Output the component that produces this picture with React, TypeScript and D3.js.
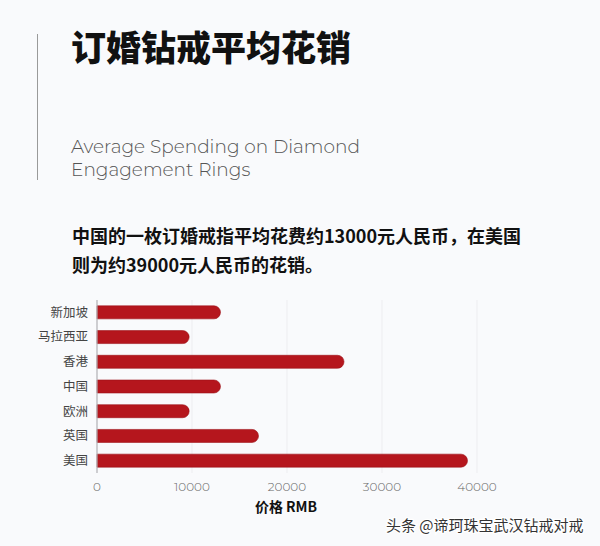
import React from "react";
import * as d3 from "d3";

const categories = ["新加坡", "马拉西亚", "香港", "中国", "欧洲", "英国", "美国"];
const values = [13000, 9700, 26000, 13000, 9700, 17000, 39000];
const xTicks = [0, 10000, 20000, 30000, 40000];
const title = "订婚钻戒平均花销";
const subtitleLines = ["Average Spending on Diamond", "Engagement Rings"];
const descLines = ["中国的一枚订婚戒指平均花费约13000元人民币，在美国", "则为约39000元人民币的花销。"];
const axisTitle = "价格 RMB";
const watermark = "头条 @谛珂珠宝武汉钻戒对戒";

const W = 600;
const H = 546;

export default function App() {
  const x = d3.scaleLinear().domain([0, 40000]).range([97, 477]);
  const y = d3.scaleBand<string>().domain(categories).range([300, 473]).paddingInner(0.474).paddingOuter(0.237);
  const bh = y.bandwidth();
  const r = bh / 2;
  const barPath = (v: number, c: string) => {
    const x0 = x(0);
    const x1 = x(v);
    const y0 = y(c)!;
    const y1 = y0 + bh;
    return `M${x0},${y0}H${x1 - r}A${r},${r} 0 0 1 ${x1 - r},${y1}H${x0}Z`;
  };
  return (
    <div style={{ position: "fixed", left: 0, top: 0, width: W, height: H }}>
      <svg width={W} height={H} style={{ display: "block", background: "#f9fafc" }}>
        <rect x={0} y={0} width={W} height={H} fill="#f9fafc" />
        <line x1={37.5} x2={37.5} y1={34} y2={180} stroke="#9a9a9a" strokeWidth={1} />
        <text x={71} y={61} fontFamily="'Noto Sans CJK SC'" fontWeight={900} fontSize={35} fill="#111" textLength={280}>
          {title}
        </text>
        {subtitleLines.map((t, i) => (
          <text key={t} x={71} y={153 + i * 23} fontFamily="Montserrat, 'Open Sans', sans-serif" fontWeight={300} fontSize={18.5} fill="#555">
            {t}
          </text>
        ))}
        {descLines.map((t, i) => (
          <text key={t} x={72} y={243 + i * 29} fontFamily="'Noto Sans CJK SC'" fontWeight={700} fontSize={18} fill="#111">
            {t}
          </text>
        ))}
        {xTicks.slice(1).map((t) => (
          <line key={t} x1={x(t)} x2={x(t)} y1={300} y2={473} stroke="#ededf0" strokeWidth={1} />
        ))}
        {categories.map((c, i) => (
          <path key={c} d={barPath(values[i], c)} fill="#b5161d" stroke="#9c1017" strokeWidth={0.6} />
        ))}
        <line x1={97} x2={97} y1={300} y2={473} stroke="#b0b0b4" strokeWidth={1.2} />
        {categories.map((c) => (
          <text key={c} x={88} y={y(c)! + bh / 2} dy="0.35em" textAnchor="end" fontFamily="'Noto Sans CJK SC'" fontSize={12.5} fill="#444">
            {c}
          </text>
        ))}
        {xTicks.map((t) => (
          <text key={t} x={x(t)} y={491} textAnchor="middle" fontFamily="Montserrat, 'Open Sans', sans-serif" fontWeight={300} fontSize={12} fill="#666">
            {t}
          </text>
        ))}
        <text x={286} y={512} textAnchor="middle" fontFamily="'Noto Sans CJK SC'" fontWeight={700} fontSize={14} fill="#111">
          {axisTitle}
        </text>
        <text x={386} y={531} fontFamily="'Noto Sans CJK SC'" fontSize={15} fill="#333" stroke="#fff" strokeWidth={2.5} paintOrder="stroke">
          {watermark}
        </text>
      </svg>
    </div>
  );
}
